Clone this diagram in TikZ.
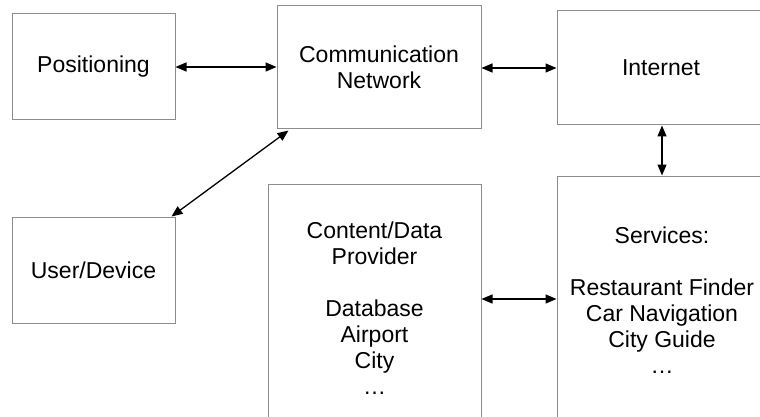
\documentclass[tikz,border=0pt]{standalone}
\usepackage{fontspec}
\setmainfont{Liberation Sans}
\usetikzlibrary{arrows.meta}
\begin{document}
\begin{tikzpicture}[x=1pt,y=-1pt,
  block/.style={draw=black!45,line width=1pt,fill=white,align=center,
    inner sep=0pt,font=\fontsize{23}{26}\selectfont},
  link/.style={line width=1.3pt,{Triangle[length=11pt,width=9pt]}-{Triangle[length=11pt,width=9pt]}}]
\clip (0,0) rectangle (760,417);
\fill[white] (0,0) rectangle (760,417);

% boxes: centre and size given in pixel units
\node[block,minimum width=163pt,minimum height=106pt] (pos) at (93.5,67) {Positioning};
\node[block,minimum width=204pt,minimum height=123pt] (comm) at (379,67.5) {Communication\\Network};
\node[block,minimum width=208pt,minimum height=114pt] (inet) at (661,68) {Internet};
\node[block,minimum width=163pt,minimum height=106pt] (user) at (93.5,270) {User/Device};
\node[block,minimum width=213pt,minimum height=248pt] (cont) at (374.5,308) {Content/Data\\Provider\\[26pt]Database\\Airport\\City\\\dots};
\node[block,minimum width=210pt,minimum height=248pt] (serv) at (662,300) {Services:\\[26pt]Restaurant Finder\\Car Navigation\\City Guide\\\dots};

% end points of the slanted connector, just off the box corners
\path (comm.south west) ++(12,1) coordinate (cu);
\path (user.north east) ++(-4,0) coordinate (uc);

% connectors
\draw[link] (pos.east) -- (comm.west |- pos.east);
\draw[link] (comm.east |- 0,68) -- (inet.west |- 0,68);
\draw[link] (inet.south -| 662,0) -- (serv.north -| 662,0);
\draw[link] (cu) -- (uc);
\draw[link] (cont.east |- 0,299) -- (serv.west |- 0,299);
\end{tikzpicture}
\end{document}
